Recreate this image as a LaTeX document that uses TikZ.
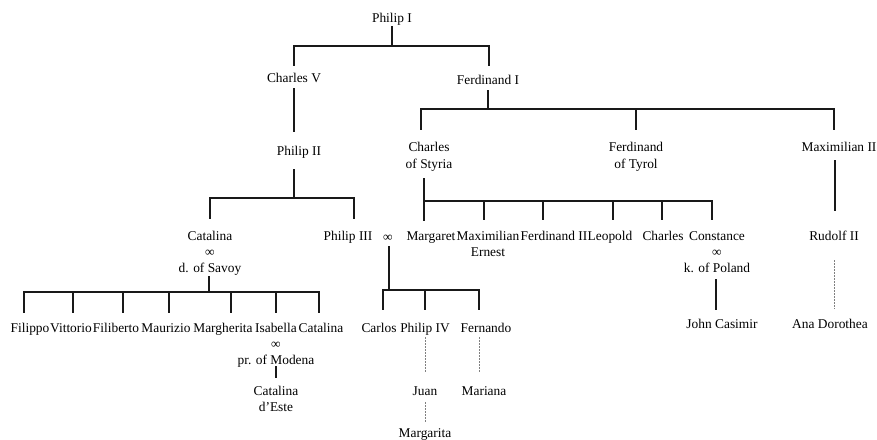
\documentclass[tikz,border=0pt]{standalone}
\usepackage{fontspec}
\setmainfont{Liberation Serif}
\begin{document}
\begin{tikzpicture}[x=1pt,y=-1pt,
  lbl/.style={anchor=base,inner sep=0pt,align=center,font=\fontsize{13.4}{16}\selectfont},
  tie/.style={line width=2pt,black!90,line cap=rect},
  faint/.style={line width=0.7pt,gray,dash pattern=on 1.6pt off 1.4pt}]
\useasboundingbox (0,0) rectangle (877,439);

% ---- people (multi-line labels sit on the baseline of their last line) ----
\node[lbl] (philipI)  at (392,22)  {Philip I};
\node[lbl] (charlesV) at (294,82)  {Charles V};
\node[lbl] (ferdI)    at (488,84)  {Ferdinand I};
\node[lbl] (philipII) at (299,155) {Philip II};
\node[lbl] (styria)   at (429,168) {Charles\\[1pt]of Styria};
\node[lbl] (tyrol)    at (636,168) {Ferdinand\\[1pt]of Tyrol};
\node[lbl] (maxII)    at (839,151) {Maximilian II};

\node[lbl] (catalina)  at (210,272) {Catalina\\∞\\d. of Savoy};
\node[lbl] (philipIII) at (348,240) {Philip III};
\node[lbl] (wed)       at (388,241) {∞};
\node[lbl] (margaret)  at (431,240) {Margaret};
\node[lbl] (maxE)      at (488,256) {Maximilian\\Ernest};
\node[lbl] (ferdII)    at (554,240) {Ferdinand II};
\node[lbl] (leopold)   at (610,240) {Leopold};
\node[lbl] (charlesS)  at (663,240) {Charles};
\node[lbl] (constance) at (717,272) {Constance\\∞\\k. of Poland};
\node[lbl] (rudolf)    at (834,240) {Rudolf II};

\node[lbl] (filippo)    at (30,332)  {Filippo};
\node[lbl] (vittorio)   at (71,332)  {Vittorio};
\node[lbl] (filiberto)  at (116,332) {Filiberto};
\node[lbl] (maurizio)   at (166,332) {Maurizio};
\node[lbl] (margherita) at (223,332) {Margherita};
\node[lbl] (isabella)   at (276,364) {Isabella\\∞\\pr. of Modena};
\node[lbl] (catalinaS)  at (321,332) {Catalina};
\node[lbl] (carlos)     at (379,332) {Carlos};
\node[lbl] (philipIV)   at (425,332) {Philip IV};
\node[lbl] (fernando)   at (486,332) {Fernando};
\node[lbl] (casimir)    at (722,328) {John Casimir};
\node[lbl] (dorothea)   at (830,328) {Ana Dorothea};

\node[lbl] (este)      at (276,411) {Catalina\\d’Este};
\node[lbl] (juan)      at (425,395) {Juan};
\node[lbl] (mariana)   at (484,395) {Mariana};
\node[lbl] (margarita) at (425,437) {Margarita};

% ---- joints ----
\coordinate (pIa) at (392,27);  \coordinate (pIb) at (392,46);
\coordinate (cVt) at (294,65);  \coordinate (fIt) at (489,65);
\coordinate (cVa) at (294,89);  \coordinate (pIIt) at (294,131);
\coordinate (fIa) at (488,91);  \coordinate (fIb) at (488,109);
\coordinate (styT) at (421,129); \coordinate (tyT) at (636,129); \coordinate (mxT) at (834,129);
\coordinate (pIIa) at (294,170); \coordinate (pIIb) at (294,198);
\coordinate (catT) at (210,218); \coordinate (p3T) at (354,218);
\coordinate (styA) at (424,179); \coordinate (styB) at (424,201);
\coordinate (meT) at (424,220); \coordinate (mxeT) at (484,219); \coordinate (f2T) at (543,219);
\coordinate (leT) at (613,219); \coordinate (chT) at (662,219); \coordinate (coT) at (712,219);
\coordinate (mxA) at (835,161); \coordinate (rdT) at (835,210);
\coordinate (rdA) at (834,260); \coordinate (adT) at (834,309);
\coordinate (coA) at (716,280); \coordinate (jcT) at (716,309);
\coordinate (catA) at (209,277); \coordinate (catB) at (209,292);
\coordinate (k1) at (24,312);  \coordinate (k2) at (73,312);  \coordinate (k3) at (123,312);
\coordinate (k4) at (169,312); \coordinate (k5) at (231,312); \coordinate (k6) at (276,312);
\coordinate (k7) at (319,312);
\coordinate (isA) at (276,367); \coordinate (esT) at (276,377);
\coordinate (wA) at (389,247); \coordinate (wB) at (389,290);
\coordinate (caT) at (383,309); \coordinate (p4T) at (425,309); \coordinate (feT) at (479,309);
\coordinate (p4A) at (425,337); \coordinate (juT) at (425,372);
\coordinate (juA) at (425,402); \coordinate (mgT) at (425,422);
\coordinate (feA) at (479,337); \coordinate (maT) at (479,372);

% ---- descent lines ----
\draw[tie] (pIa) -- (pIb);
\draw[tie] (cVt) -- (cVt |- pIb) -- (fIt |- pIb) -- (fIt);
\draw[tie] (cVa) -- (pIIt);
\draw[tie] (fIa) -- (fIb);
\draw[tie] (styT) -- (styT |- fIb) -- (mxT |- fIb) -- (mxT);
\draw[tie] (tyT) -- (tyT |- fIb);
\draw[tie] (pIIa) -- (pIIb);
\draw[tie] (catT) -- (catT |- pIIb) -- (p3T |- pIIb) -- (p3T);
\draw[tie] (styA) -- (meT);
\draw[tie] (styB) -- (coT |- styB) -- (coT);
\foreach \c in {mxeT,f2T,leT,chT} \draw[tie] (\c) -- (\c |- styB);
\draw[tie] (mxA) -- (rdT);
\draw[faint] (rdA) -- (adT);
\draw[tie] (coA) -- (jcT);
\draw[tie] (catA) -- (catB);
\draw[tie] (k1) -- (k1 |- catB) -- (k7 |- catB) -- (k7);
\foreach \c in {k2,k3,k4,k5,k6} \draw[tie] (\c) -- (\c |- catB);
\draw[tie] (isA) -- (esT);
\draw[tie] (wA) -- (wB);
\draw[tie] (caT) -- (caT |- wB) -- (feT |- wB) -- (feT);
\draw[tie] (p4T) -- (p4T |- wB);
\draw[faint] (p4A) -- (juT);
\draw[faint] (juA) -- (mgT);
\draw[faint] (feA) -- (maT);
\end{tikzpicture}
\end{document}
